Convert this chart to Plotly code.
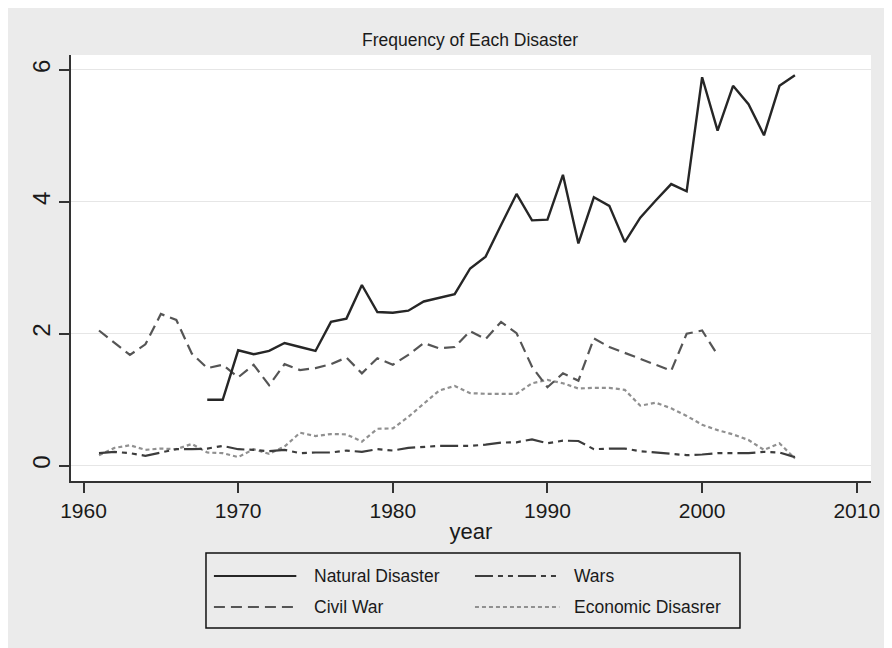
import plotly.graph_objects as go

# ---------------- data ----------------
years_nat = list(range(1968, 2007))
natural_disaster = [1.00, 1.00, 1.75, 1.69, 1.74, 1.86, 1.80, 1.74, 2.18, 2.23, 2.74,
                    2.33, 2.32, 2.35, 2.49, 2.54, 2.60, 2.99, 3.17, 3.65, 4.12, 3.72,
                    3.73, 4.41, 3.37, 4.07, 3.94, 3.39, 3.76, 4.02, 4.27, 4.16, 5.89,
                    5.08, 5.76, 5.48, 5.01, 5.76, 5.92]

years_civ = list(range(1961, 2002))
civil_war = [2.05, 1.86, 1.68, 1.84, 2.30, 2.21, 1.70, 1.48, 1.53, 1.34, 1.53, 1.22,
             1.54, 1.45, 1.48, 1.54, 1.64, 1.40, 1.63, 1.53, 1.68, 1.86, 1.78, 1.80,
             2.04, 1.92, 2.18, 2.01, 1.50, 1.19, 1.40, 1.29, 1.93, 1.80, 1.71, 1.63,
             1.54, 1.44, 2.00, 2.05, 1.68]

years_all = list(range(1961, 2007))
wars = [0.19, 0.21, 0.19, 0.15, 0.20, 0.25, 0.25, 0.26, 0.30, 0.25, 0.24, 0.22,
        0.24, 0.19, 0.20, 0.20, 0.23, 0.21, 0.25, 0.23, 0.27, 0.29, 0.30, 0.30,
        0.30, 0.32, 0.35, 0.355, 0.40, 0.34, 0.38, 0.375, 0.25, 0.26, 0.26, 0.22,
        0.20, 0.17, 0.16, 0.17, 0.19, 0.19, 0.19, 0.21, 0.20, 0.13]

economic = [0.16, 0.27, 0.31, 0.24, 0.26, 0.25, 0.33, 0.20, 0.19, 0.13, 0.25, 0.18,
            0.29, 0.50, 0.45, 0.48, 0.475, 0.365, 0.56, 0.565, 0.74, 0.945, 1.14, 1.21,
            1.10, 1.09, 1.09, 1.09, 1.25, 1.30, 1.25, 1.17, 1.18, 1.18, 1.15, 0.91,
            0.955, 0.87, 0.755, 0.62, 0.54, 0.475, 0.39, 0.24, 0.34, 0.11]

series_names = ["Natural Disaster", "Wars", "Civil War", "Economic Disasrer"]
x_ticks = [1960, 1970, 1980, 1990, 2000, 2010]
y_ticks = [0, 2, 4, 6]

# ---------------- styles ----------------
FONT = "Liberation Sans, Arial, Helvetica, sans-serif"
BG = "#ebebeb"
styles = {
    "Natural Disaster": dict(color="#262626", width=2.4, dash="solid"),
    "Wars": dict(color="#3c3c3c", width=2.2, dash="18px,5px,5px,5px,5px,5px"),
    "Civil War": dict(color="#555555", width=2.2, dash="11px,6px"),
    "Economic Disasrer": dict(color="#909090", width=2.2, dash="4px,3px"),
}

# page body has an 8px margin; the figure is sized to fill the rest of the window
OFF = 8
W, H = 892 - OFF, 648 - OFF
X0, X1, YT, YB = 71 - OFF, 877 - OFF, 55 - OFF, 481 - OFF


def px2paper_x(px):
    return (px - OFF - X0) / (X1 - X0)


def px2paper_y(py):
    return (YB - (py - OFF)) / (YB - YT)


fig = go.Figure()
data_map = {
    "Natural Disaster": (years_nat, natural_disaster),
    "Wars": (years_all, wars),
    "Civil War": (years_civ, civil_war),
    "Economic Disasrer": (years_all, economic),
}
for name in ["Economic Disasrer", "Wars", "Civil War", "Natural Disaster"]:
    xs, ys = data_map[name]
    fig.add_trace(go.Scatter(x=xs, y=ys, mode="lines", name=name,
                             line=styles[name], showlegend=False))

# ---------------- custom legend (box, samples, labels) ----------------
shapes = []
annotations = []
shapes.append(dict(type="rect", xref="paper", yref="paper",
                   x0=px2paper_x(207), x1=px2paper_x(745),
                   y0=px2paper_y(628), y1=px2paper_y(553),
                   line=dict(color="#111111", width=1.5), fillcolor="rgba(0,0,0,0)"))
positions = {
    "Natural Disaster": (215, 298, 314, 576),
    "Wars": (478, 563, 576, 576),
    "Civil War": (215, 298, 314, 607),
    "Economic Disasrer": (478, 563, 576, 607),
}
for name in series_names:
    lx0, lx1, tx, ty = positions[name]
    st = styles[name]
    shapes.append(dict(type="line", xref="paper", yref="paper",
                       x0=px2paper_x(lx0), x1=px2paper_x(lx1),
                       y0=px2paper_y(ty), y1=px2paper_y(ty),
                       line=dict(color=st["color"], width=2, dash=st["dash"])))
    annotations.append(dict(text=name, xref="paper", yref="paper",
                            x=px2paper_x(tx), y=px2paper_y(ty),
                            xanchor="left", yanchor="middle", showarrow=False,
                            font=dict(family=FONT, size=17.5, color="#1a1a1a")))

fig.update_layout(
    width=W, height=H,
    margin=dict(l=X0, r=W - X1, t=YT, b=H - YB, pad=0),
    paper_bgcolor=BG, plot_bgcolor="white",
    font=dict(family=FONT, color="#1a1a1a"),
    title=dict(text="Frequency of Each Disaster", x=(470 - OFF) / W, xanchor="center",
               y=1 - (40 - OFF) / H, yanchor="middle", yref="container",
               font=dict(family=FONT, size=17.5, color="#1a1a1a")),
    shapes=shapes, annotations=annotations,
    showlegend=False,
)
fig.update_xaxes(range=[1959.19, 2010.92], tickvals=x_ticks, ticks="outside", ticklen=10,
                 tickwidth=1.5, tickcolor="#333333", showline=True, linecolor="#333333",
                 linewidth=1.5, showgrid=False, zeroline=False,
                 tickfont=dict(family=FONT, size=21, color="#1a1a1a"),
                 title=dict(text="year", font=dict(family=FONT, size=22, color="#1a1a1a"),
                            standoff=3))
fig.update_yaxes(range=[-0.232, 6.227], tickvals=y_ticks, ticks="outside", ticklen=10,
                 tickwidth=1.5, tickcolor="#333333", showline=True, linecolor="#333333",
                 linewidth=1.5, showgrid=True, gridcolor="#e6e6e6", gridwidth=1,
                 zeroline=False, tickangle=-90,
                 tickfont=dict(family=FONT, size=24, color="#1a1a1a"))

fig.write_html("out.html")
